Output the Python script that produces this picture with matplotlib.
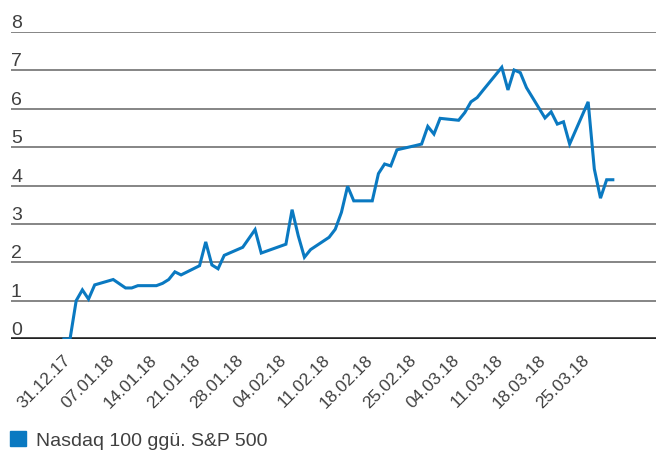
import datetime as dt
import matplotlib
matplotlib.use('Agg')
import matplotlib.pyplot as plt
import matplotlib.dates as mdates
import matplotlib.transforms as mtransforms
from matplotlib.patches import Patch

# Data
dates = ['31.12.17', '01.01.18', '02.01.18', '03.01.18', '04.01.18', '05.01.18',
         '08.01.18', '10.01.18', '11.01.18', '12.01.18', '15.01.18', '16.01.18',
         '17.01.18', '18.01.18', '19.01.18', '22.01.18', '23.01.18', '24.01.18',
         '25.01.18', '26.01.18', '29.01.18', '31.01.18', '01.02.18', '05.02.18',
         '06.02.18', '07.02.18', '08.02.18', '09.02.18', '12.02.18', '13.02.18',
         '14.02.18', '15.02.18', '16.02.18', '19.02.18', '20.02.18', '21.02.18',
         '22.02.18', '23.02.18', '26.02.18', '27.02.18', '28.02.18', '01.03.18',
         '02.03.18', '05.03.18', '06.03.18', '07.03.18', '08.03.18', '09.03.18',
         '12.03.18', '13.03.18', '14.03.18', '15.03.18', '16.03.18', '19.03.18',
         '20.03.18', '21.03.18', '22.03.18', '23.03.18', '26.03.18', '27.03.18',
         '28.03.18', '29.03.18', '30.03.18']
values = [0.0, 0.0, 1.00, 1.28, 1.04, 1.41,
          1.55, 1.33, 1.33, 1.39, 1.39, 1.45,
          1.55, 1.75, 1.67, 1.91, 2.53, 1.93,
          1.83, 2.18, 2.39, 2.85, 2.24, 2.47,
          3.37, 2.69, 2.13, 2.33, 2.65, 2.86,
          3.30, 3.98, 3.60, 3.60, 4.31, 4.56,
          4.51, 4.93, 5.04, 5.08, 5.54, 5.34,
          5.75, 5.70, 5.90, 6.18, 6.29, 6.49,
          7.08, 6.49, 7.01, 6.94, 6.55, 5.76,
          5.92, 5.60, 5.66, 5.08, 6.18, 4.43,
          3.67, 4.15, 4.15]
tick_labels = ['31.12.17', '07.01.18', '14.01.18', '21.01.18', '28.01.18', '04.02.18',
               '11.02.18', '18.02.18', '25.02.18', '04.03.18', '11.03.18', '18.03.18',
               '25.03.18']
yvals = [0, 1, 2, 3, 4, 5, 6, 7, 8]
series_name = 'Nasdaq 100 ggü. S&P 500'

blue = '#0a79c1'
txtcol = '#404040'
plt.rcParams['font.family'] = ['Liberation Sans', 'DejaVu Sans']

x = [dt.datetime.strptime(d, '%d.%m.%y') for d in dates]
xt = [dt.datetime.strptime(d, '%d.%m.%y') for d in tick_labels]

fig = plt.figure(figsize=(6.56, 4.56), dpi=100)
ax = fig.add_axes([11/656, 116/456, 645/656, 307/456])

for v in yvals[1:]:
    ax.axhline(v, color='#858585', lw=1.4, zorder=1)
ax.axhline(0, color='#222222', lw=2.6, zorder=1.5)

ax.plot(x, values, color=blue, lw=2.2, zorder=2, solid_joinstyle='miter')

x0 = mdates.date2num(dt.datetime(2018, 1, 1))
ax.set_xlim(x0 - 9.57, x0 + 95.0)
ax.set_ylim(0, 8)

for s in ax.spines.values():
    s.set_visible(False)
ax.set_yticks([])

# y labels sit on top of the grid lines
trans = mtransforms.blended_transform_factory(ax.transAxes, ax.transData)
off = mtransforms.ScaledTranslation(0, 5/100, fig.dpi_scale_trans)
for v in yvals:
    ax.text(0, v, str(v), transform=trans + off, ha='left', va='baseline',
            fontsize=14, color=txtcol)

ax.set_xticks(xt)
ax.set_xticklabels(tick_labels, rotation=45, ha='right', fontsize=12.5, color=txtcol)
ax.tick_params(axis='x', length=0, pad=9)
shift = mtransforms.ScaledTranslation(10/100, 0, fig.dpi_scale_trans)
for lab in ax.get_xticklabels():
    lab.set_transform(lab.get_transform() + shift)

fig.legend(handles=[Patch(color=blue)], labels=[series_name], loc='lower left',
           bbox_to_anchor=(10/656, 6/456), frameon=False, fontsize=14,
           handlelength=0.8, handleheight=0.8, handletextpad=0.55,
           labelcolor=txtcol, borderaxespad=0, borderpad=0)

fig.savefig('out.png', dpi=100)
